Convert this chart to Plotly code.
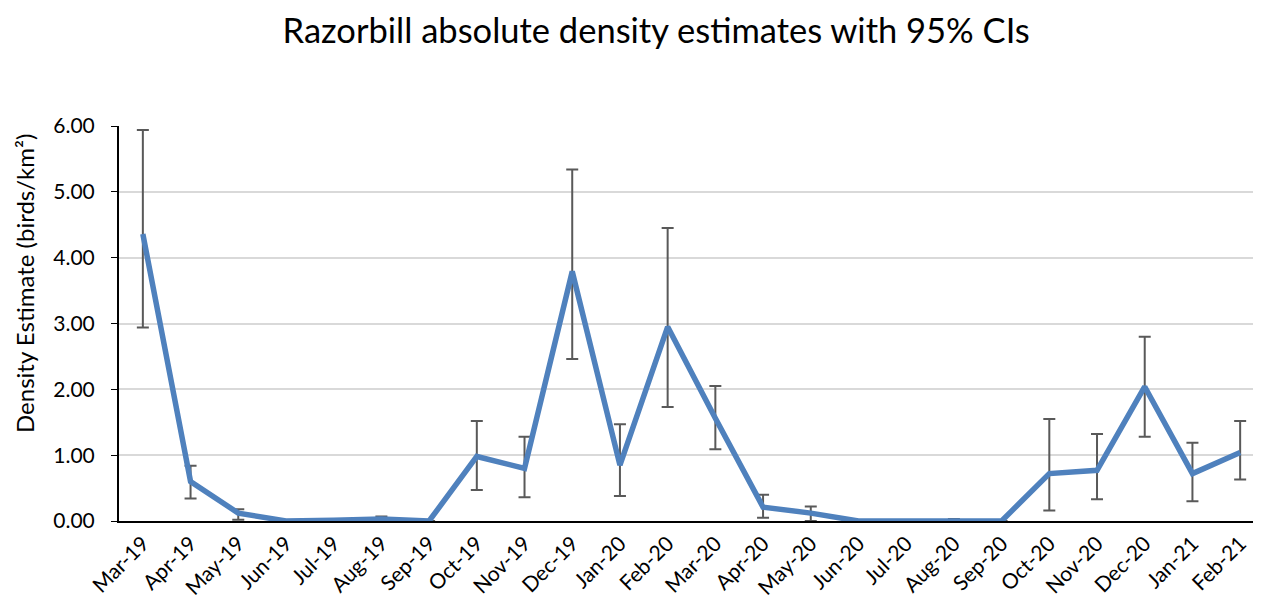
import plotly.graph_objects as go

months = ["Mar-19", "Apr-19", "May-19", "Jun-19", "Jul-19", "Aug-19", "Sep-19", "Oct-19",
          "Nov-19", "Dec-19", "Jan-20", "Feb-20", "Mar-20", "Apr-20", "May-20", "Jun-20",
          "Jul-20", "Aug-20", "Sep-20", "Oct-20", "Nov-20", "Dec-20", "Jan-21", "Feb-21"]
density = [4.36, 0.60, 0.12, 0.00, 0.01, 0.03, 0.00, 0.98,
           0.80, 3.79, 0.85, 2.95, 1.56, 0.21, 0.12, 0.00,
           0.00, 0.01, 0.00, 0.72, 0.77, 2.04, 0.72, 1.04]
upper_ci = [5.94, 0.84, 0.18, 0.00, 0.02, 0.07, 0.00, 1.52,
            1.28, 5.34, 1.47, 4.45, 2.05, 0.40, 0.22, 0.00,
            0.00, 0.03, 0.00, 1.55, 1.32, 2.80, 1.19, 1.52]
lower_ci = [2.94, 0.34, 0.02, 0.00, 0.00, 0.00, 0.00, 0.47,
            0.36, 2.46, 0.38, 1.73, 1.09, 0.05, 0.00, 0.00,
            0.00, 0.00, 0.00, 0.16, 0.33, 1.28, 0.30, 0.63]

err_plus = [u - d for u, d in zip(upper_ci, density)]
err_minus = [d - l for d, l in zip(density, lower_ci)]

font_family = "Lato, 'Open Sans', sans-serif"

fig = go.Figure()
fig.add_trace(go.Scatter(
    x=months, y=density, mode="lines",
    line=dict(color="#4f81bd", width=5.5),
    error_y=dict(type="data", symmetric=False, array=err_plus, arrayminus=err_minus,
                 color="#595959", thickness=2, width=6),
    showlegend=False,
))

fig.update_layout(
    width=1261, height=606,
    paper_bgcolor="white", plot_bgcolor="white",
    margin=dict(l=111, r=5, t=118, b=93),
    title=dict(text="Razorbill absolute density estimates with 95% CIs",
               x=0.514, xanchor="center", y=0.962, yanchor="middle",
               font=dict(family=font_family, size=34.5, color="black")),
    font=dict(family=font_family, color="black"),
    annotations=[dict(
        text="Density Estimate (birds/km²)", textangle=-90,
        xref="paper", yref="paper", x=0, y=0.6, xanchor="center", yanchor="middle",
        xshift=-95, showarrow=False,
        font=dict(family=font_family, size=24, color="black"),
    )],
)
fig.update_xaxes(
    type="category", tickangle=-45, tickfont=dict(size=21, color="black"),
    showline=True, linecolor="black", linewidth=2, showgrid=False,
    ticks="", range=[-0.5, len(months) - 0.5], automargin=False,
)
fig.update_yaxes(
    range=[0, 6], dtick=1, tickformat=".2f", tickfont=dict(size=21, color="black"),
    showline=True, linecolor="black", linewidth=2,
    ticks="outside", ticklen=6, tickcolor="black", ticklabelstandoff=12,
    showgrid=True, gridcolor="#d9d9d9", gridwidth=1.5,
    zeroline=False, automargin=False,
)

fig.write_html("out.html")
